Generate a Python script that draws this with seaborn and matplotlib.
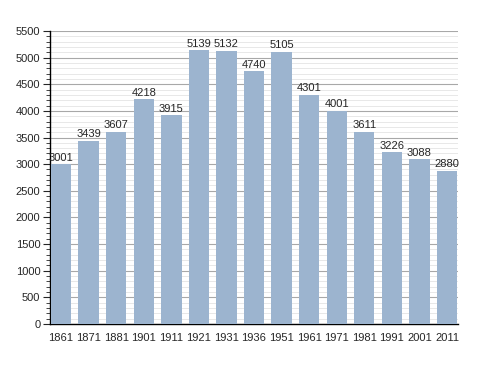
import matplotlib
matplotlib.use("Agg")
import matplotlib.pyplot as plt
import pandas as pd
import seaborn as sns
from matplotlib.ticker import MultipleLocator

years = ["1861", "1871", "1881", "1901", "1911", "1921", "1931", "1936",
         "1951", "1961", "1971", "1981", "1991", "2001", "2011"]
population = [3001, 3439, 3607, 4218, 3915, 5139, 5132, 4740,
              5105, 4301, 4001, 3611, 3226, 3088, 2880]

df = pd.DataFrame({"year": years, "population": population})

sns.set_style("white")
plt.rcParams["font.family"] = ["Liberation Sans", "DejaVu Sans"]

fig = plt.figure(figsize=(4.88, 3.73), dpi=100)
ax = fig.add_axes([0.1025, 0.1314, 0.836, 0.7856])

sns.barplot(data=df, x="year", y="population", color="#9cb4cf",
            saturation=1, width=0.74, linewidth=0, ax=ax, zorder=3)

for i, v in enumerate(population):
    ax.text(i, v + 30, str(v), ha="center", va="bottom", fontsize=8, zorder=4)

ax.set_ylim(0, 5500)
ax.set_xlim(-0.4, len(years) - 0.6)
ax.yaxis.set_major_locator(MultipleLocator(500))
ax.yaxis.set_minor_locator(MultipleLocator(100))
ax.grid(which="major", axis="y", color="#a8a8a8", linewidth=0.8, zorder=0)
ax.grid(which="minor", axis="y", color="#e4e4e4", linewidth=0.6, zorder=0)
ax.set_axisbelow(True)

ax.tick_params(axis="y", which="major", left=True, length=5, width=0.8,
               labelsize=8, pad=2)
ax.tick_params(axis="y", which="minor", left=True, length=3, width=0.6)
ax.tick_params(axis="x", bottom=False, labelsize=8, pad=3)

for side in ["top", "right"]:
    ax.spines[side].set_visible(False)
for side in ["left", "bottom"]:
    ax.spines[side].set_color("black")
    ax.spines[side].set_linewidth(1)

ax.set_xlabel("")
ax.set_ylabel("")

fig.savefig("out.png", dpi=100)
